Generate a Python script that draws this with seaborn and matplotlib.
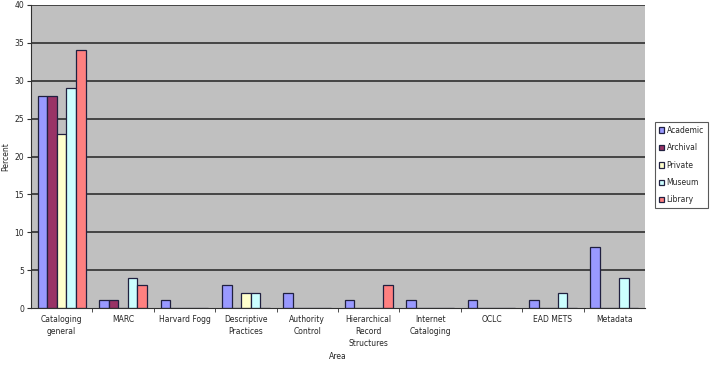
import numpy as np
import pandas as pd
import seaborn as sns
import matplotlib.pyplot as plt
from matplotlib.ticker import FixedLocator

areas = ["Cataloging\ngeneral", "MARC", "Harvard Fogg", "Descriptive\nPractices",
         "Authority\nControl", "Hierarchical\nRecord\nStructures", "Internet\nCataloging",
         "OCLC", "EAD METS", "Metadata"]
groups = ["Academic", "Archival", "Private", "Museum", "Library"]
academic = [28, 1, 1, 3, 2, 1, 1, 1, 1, 8]
archival = [28, 1, 0, 0, 0, 0, 0, 0, 0, 0]
private = [23, 0, 0, 2, 0, 0, 0, 0, 0, 0]
museum = [29, 4, 0, 2, 0, 0, 0, 0, 2, 4]
library = [34, 3, 0, 0, 0, 3, 0, 0, 0, 0]

colors = ["#9999FF", "#993366", "#FFFFCC", "#CCFFFF", "#FF8080"]

rows = []
for g, vals in zip(groups, [academic, archival, private, museum, library]):
    for a, v in zip(areas, vals):
        rows.append({"Area": a, "Group": g, "Percent": v})
df = pd.DataFrame(rows)

sns.set_style("white")
plt.rcParams['font.family'] = ['DejaVu Sans']

fig = plt.figure(figsize=(7.15, 3.65), dpi=100)
ax = fig.add_axes([31/715, 57/365, 614/715, 303/365])
ax.set_facecolor("#C0C0C0")

sns.barplot(data=df, x="Area", y="Percent", hue="Group", hue_order=groups,
            palette=colors, width=0.78, edgecolor="#202040", linewidth=0.9,
            saturation=1, ax=ax)

ax.set_ylim(0, 40)
ax.set_xlim(-0.5, len(areas) - 0.5)
ax.set_yticks(np.arange(0, 41, 5))
for y in np.arange(5, 41, 5):
    ax.axhline(y, color="#3a3a3a", lw=1.3, zorder=0)

for s in ["top", "right"]:
    ax.spines[s].set_visible(False)
ax.spines["left"].set_color("#303030")
ax.spines["bottom"].set_color("#303030")

ax.tick_params(axis="y", labelsize=5.5, length=3, color="#303030", pad=2, left=True)
ax.tick_params(axis="x", which="major", labelsize=5.5, length=0, pad=5)
ax.xaxis.set_minor_locator(FixedLocator(np.arange(0.5, len(areas) - 0.5, 1)))
ax.tick_params(axis="x", which="minor", length=3, color="#303030", bottom=True)
for lbl in ax.get_xticklabels():
    lbl.set_linespacing(1.4)

ax.set_xlabel("Area", fontsize=5.5, labelpad=3)
ax.set_ylabel("Percent", fontsize=5.5, labelpad=3)

leg = ax.legend(loc="upper left", bbox_to_anchor=(624/614, 0.614),
                fontsize=5.5, frameon=True, fancybox=False, edgecolor="#303030",
                handlelength=0.7, handleheight=0.7, handletextpad=0.3,
                labelspacing=1.1, borderpad=0.5, borderaxespad=0)
leg.get_frame().set_linewidth(0.8)

fig.savefig("out.png", dpi=100, facecolor="white")
